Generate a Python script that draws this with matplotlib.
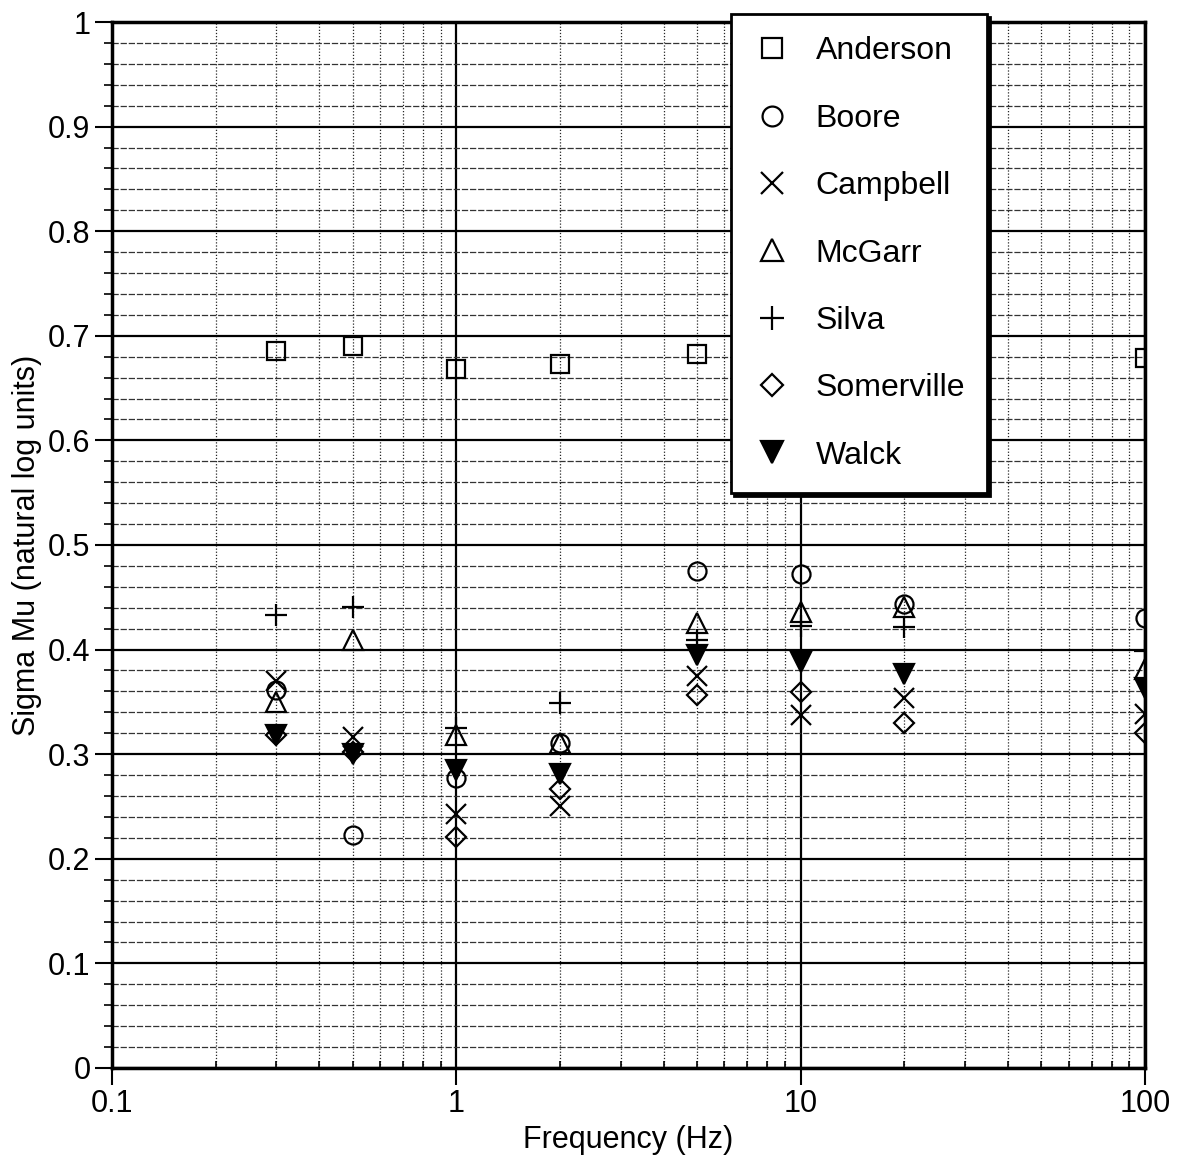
import numpy as np
import matplotlib.pyplot as plt
from matplotlib.ticker import FixedLocator, FixedFormatter, LogLocator, MultipleLocator, NullFormatter, FuncFormatter

plt.rcParams['font.family'] = ['Liberation Sans', 'DejaVu Sans']

# frequencies (Hz)
freq = [0.3, 0.5, 1, 2, 5, 10, 20, 100]

# sigma mu per expert (natural log units)
anderson   = [0.685, 0.690, 0.668, 0.673, 0.683, 0.680, 0.680, 0.679]
boore      = [0.361, 0.223, 0.277, 0.311, 0.475, 0.472, 0.444, 0.430]
campbell   = [0.370, 0.316, 0.243, 0.250, 0.375, 0.337, 0.354, 0.338]
mcgarr     = [0.350, 0.409, 0.318, 0.311, 0.425, 0.436, 0.441, 0.381]
silva      = [0.433, 0.441, 0.325, 0.349, 0.409, 0.423, 0.422, 0.399]
somerville = [0.318, 0.302, 0.221, 0.267, 0.357, 0.359, 0.330, 0.320]
walck      = [0.318, 0.300, 0.285, 0.281, 0.395, 0.388, 0.377, 0.363]

names = ['Anderson', 'Boore', 'Campbell', 'McGarr', 'Silva', 'Somerville', 'Walck']
values = [anderson, boore, campbell, mcgarr, silva, somerville, walck]
markers = ['s', 'o', 'x', '^', '+', 'D', 'v']
sizes = [13, 13, 14, 14, 16, 10, 14]

fig = plt.figure(figsize=(11.82, 11.65), dpi=100)
ax = fig.add_axes([0.0948, 0.0833, 0.8739, 0.8978])

for name, vals, m, s in zip(names, values, markers, sizes):
    filled = (m == 'v')
    ax.plot(freq, vals, linestyle='none', marker=m, markersize=s,
            markerfacecolor='black' if filled else 'none',
            markeredgecolor='black', markeredgewidth=1.6, label=name, zorder=5)

ax.set_xscale('log')
ax.set_xlim(0.1, 100)
ax.set_ylim(0, 1)

# grid
ax.xaxis.set_major_locator(FixedLocator([0.1, 1, 10, 100]))
ax.xaxis.set_major_formatter(FixedFormatter(['0.1', '1', '10', '100']))
ax.xaxis.set_minor_locator(LogLocator(base=10, subs=np.arange(2, 10)))
ax.xaxis.set_minor_formatter(NullFormatter())
ax.yaxis.set_major_locator(MultipleLocator(0.1))
ax.yaxis.set_minor_locator(MultipleLocator(0.02))
ax.yaxis.set_major_formatter(FuncFormatter(lambda v, p: '%g' % round(v, 2)))

ax.grid(True, axis='y', which='major', color='black', linewidth=1.6)
ax.grid(True, axis='y', which='minor', color='0.2', linewidth=0.9, linestyle=(0, (5, 1.5)))
ax.grid(True, axis='x', which='major', color='black', linewidth=1.6)
ax.grid(True, axis='x', which='minor', color='0.15', linewidth=0.9, linestyle=(0, (1, 1.5)))
ax.set_axisbelow(True)

for sp in ax.spines.values():
    sp.set_linewidth(2.5)

ax.tick_params(axis='both', which='major', labelsize=22, width=1.5, length=12, direction='out')
ax.tick_params(axis='y', which='minor', length=6, width=1.2, direction='out')
ax.tick_params(axis='x', which='minor', length=5, width=1.2, direction='in')

ax.set_xlabel('Frequency (Hz)', fontsize=22, labelpad=4)
ax.set_ylabel('Sigma Mu (natural log units)', fontsize=22, labelpad=4)

leg = ax.legend(loc='upper left', bbox_to_anchor=(0.599, 1.0076), fontsize=23,
                frameon=True, fancybox=False, edgecolor='black', framealpha=1,
                labelspacing=1.17, handletextpad=0.75, borderpad=0.7, borderaxespad=0,
                handlelength=1.2, markerscale=1.1,
                shadow={'color': 'black', 'alpha': 1, 'ox': 2, 'oy': -2})
leg.get_frame().set_linewidth(2)
leg.set_zorder(10)

fig.savefig('out.png', dpi=100)
